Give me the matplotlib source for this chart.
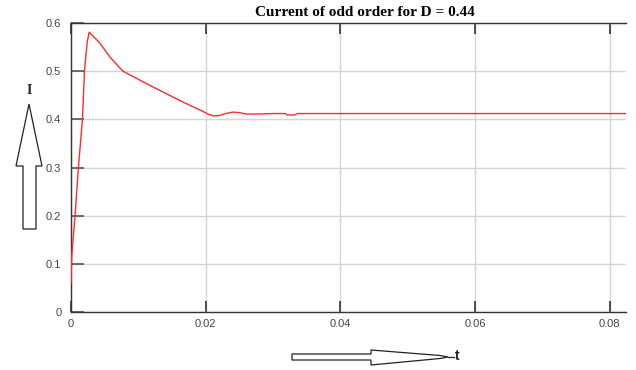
import matplotlib.pyplot as plt
from matplotlib.patches import Polygon

# odd-order current
t = [0, 0.0001, 0.0006, 0.0011, 0.0017, 0.0020, 0.0024, 0.0027, 0.0043, 0.0058,
     0.0077, 0.0122, 0.0166, 0.0195, 0.0205, 0.0212, 0.022, 0.023,
     0.024, 0.025, 0.026, 0.028, 0.030, 0.0318, 0.0321, 0.0332, 0.0336, 0.084]
cur = [0.06, 0.115, 0.2, 0.3, 0.4, 0.5, 0.56, 0.581, 0.558, 0.529,
       0.500, 0.467, 0.436, 0.417, 0.410, 0.407, 0.408, 0.412,
       0.415, 0.414, 0.411, 0.411, 0.412, 0.412, 0.409, 0.409, 0.412, 0.412]
xticks = [0, 0.02, 0.04, 0.06, 0.08]
yticks = [0, 0.1, 0.2, 0.3, 0.4, 0.5, 0.6]

W, H = 636, 370
fig = plt.figure(figsize=(W / 100, H / 100), dpi=100)


def px(x, y):
    return (x / W, 1 - y / H)


ax = fig.add_axes([71 / W, 1 - 312 / H, (626 - 71) / W, 289 / H])
ax.plot(t, cur, color='#ff2a2a', lw=1.0, zorder=3)
ax.set_xlim(0, 0.0824)
ax.set_ylim(0, 0.6)
ax.set_xticks(xticks)
ax.set_xticklabels(['0', '0.02', '0.04', '0.06', '0.08'])
ax.set_yticks(yticks)
ax.set_yticklabels(['0', '0.1', '0.2', '0.3', '0.4', '0.5', '0.6'])
ax.grid(True, color='#d4d4d4', lw=1.0)
ax.tick_params(axis='x', direction='in', length=8, width=1.2, color='#333333',
               top=True, labelsize=8, labelcolor='#444444', pad=5)
ax.tick_params(axis='y', direction='in', length=9, width=1.2, color='#555555',
               labelsize=8, labelcolor='#444444', pad=7)
for s in ['left', 'bottom', 'top']:
    ax.spines[s].set_color('#333333')
    ax.spines[s].set_linewidth(1.0)
ax.spines['right'].set_visible(False)
for lab in ax.get_xticklabels() + ax.get_yticklabels():
    lab.set_family('Liberation Sans')

fig.text(365 / W, 1 - 12 / H, 'Current of odd order for D = 0.44',
         ha='center', va='center', family='Liberation Serif',
         fontweight='bold', fontsize=11)

# hollow arrow up for the current axis
up = [(23, 229), (36, 229), (36, 166), (42, 166), (29, 104), (16, 166), (23, 166)]
fig.patches.append(Polygon([px(*p) for p in up], closed=True, fill=False,
                           ec='#222222', lw=0.9, transform=fig.transFigure))
fig.text(29 / W, 1 - 91 / H, 'I', ha='center', va='center',
         family='Liberation Serif', fontweight='bold', fontsize=10, color='#222222')

# hollow arrow right for time
right = [(292, 354), (371, 354), (371, 350), (440, 355.5), (448, 357),
         (440, 358.5), (371, 365), (371, 360), (292, 360)]
fig.patches.append(Polygon([px(*p) for p in right], closed=True, fill=False,
                           ec='#222222', lw=0.9, transform=fig.transFigure))
fig.lines.append(plt.Line2D([448 / W, 454 / W], [1 - 357 / H, 1 - 357 / H],
                            color='#222222', lw=0.9, transform=fig.transFigure))
fig.text(455 / W, 1 - 356 / H, 't', ha='left', va='center',
         family='Liberation Sans', fontweight='bold', fontsize=10, color='#222222')

fig.savefig('out.png', dpi=100)
